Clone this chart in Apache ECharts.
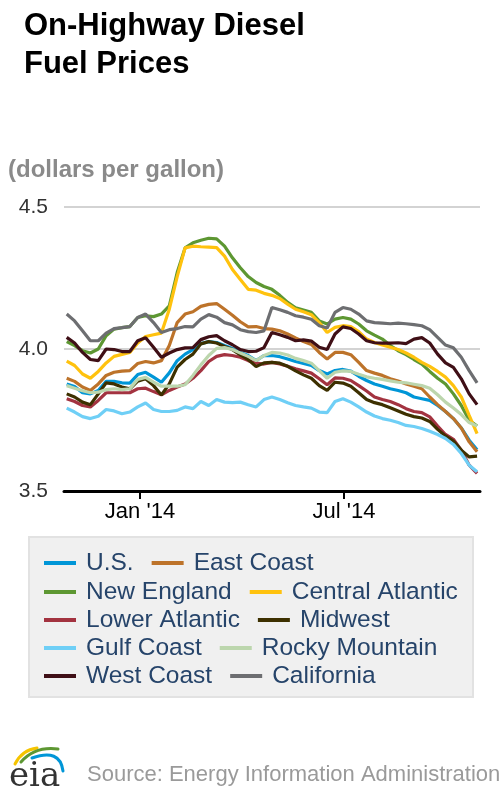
<!DOCTYPE html>
<html>
<head>
<meta charset="utf-8">
<script src="https://cdn.jsdelivr.net/npm/echarts@6/dist/echarts.min.js"></script>
<style>
html,body{margin:0;padding:0;background:#fff;}
#chart{width:500px;height:800px;}
</style>
</head>
<body>
<div id="chart"></div>
<script>
const weeks = ['2013-10-28','2013-11-04','2013-11-11','2013-11-18','2013-11-25','2013-12-02','2013-12-09','2013-12-16','2013-12-23','2013-12-30',
'2014-01-06','2014-01-13','2014-01-20','2014-01-27','2014-02-03','2014-02-10','2014-02-17','2014-02-24','2014-03-03','2014-03-10',
'2014-03-17','2014-03-24','2014-03-31','2014-04-07','2014-04-14','2014-04-21','2014-04-28','2014-05-05','2014-05-12','2014-05-19',
'2014-05-26','2014-06-02','2014-06-09','2014-06-16','2014-06-23','2014-06-30','2014-07-07','2014-07-14','2014-07-21','2014-07-28',
'2014-08-04','2014-08-11','2014-08-18','2014-08-25','2014-09-01','2014-09-08','2014-09-15','2014-09-22','2014-09-29','2014-10-06',
'2014-10-13','2014-10-20','2014-10-27'];

const us = [3.877,3.868,3.846,3.842,3.854,3.886,3.886,3.881,3.880,3.910,3.918,3.901,3.883,3.916,3.959,3.982,3.998,4.019,4.026,4.023,4.012,4.002,3.988,3.977,
3.959,3.977,3.977,3.973,3.965,3.956,3.949,3.942,3.924,3.912,3.924,3.928,3.922,3.904,3.889,3.877,3.869,3.860,3.854,3.846,3.831,3.825,3.819,3.801,3.780,3.755,3.722,3.679,3.645];
const eastCoast = [3.897,3.886,3.866,3.854,3.877,3.907,3.918,3.922,3.924,3.949,3.956,3.951,3.959,4.012,4.093,4.123,4.131,4.150,4.157,4.160,4.140,4.119,4.096,4.078,
4.079,4.072,4.070,4.064,4.053,4.039,4.026,4.016,3.988,3.965,3.988,3.988,3.980,3.953,3.924,3.915,3.907,3.895,3.887,3.877,3.869,3.860,3.831,3.804,3.780,3.755,3.722,3.673,3.638];
const newEngland = [4.026,4.012,3.994,3.986,4.000,4.047,4.070,4.075,4.079,4.111,4.117,4.114,4.123,4.152,4.269,4.356,4.374,4.383,4.390,4.388,4.362,4.321,4.286,4.255,
4.234,4.220,4.210,4.189,4.164,4.145,4.137,4.129,4.099,4.088,4.105,4.111,4.105,4.088,4.064,4.049,4.035,4.012,3.994,3.980,3.963,3.947,3.921,3.897,3.877,3.842,3.801,3.749,3.729];
const centralAtlantic = [3.957,3.942,3.912,3.897,3.921,3.951,3.974,3.981,3.988,4.021,4.044,4.050,4.056,4.140,4.255,4.356,4.362,4.360,4.359,4.357,4.327,4.280,4.245,4.210,
4.207,4.196,4.189,4.178,4.158,4.140,4.131,4.121,4.093,4.058,4.076,4.082,4.079,4.061,4.035,4.023,4.014,4.006,3.998,3.986,3.971,3.953,3.939,3.921,3.901,3.871,3.831,3.766,3.702];
const lowerAtlantic = [3.825,3.815,3.801,3.796,3.819,3.846,3.846,3.846,3.846,3.860,3.862,3.850,3.839,3.854,3.866,3.877,3.897,3.924,3.956,3.974,3.980,3.977,3.971,3.959,
3.950,3.947,3.953,3.947,3.939,3.930,3.923,3.915,3.895,3.874,3.898,3.897,3.889,3.871,3.852,3.831,3.822,3.815,3.804,3.790,3.780,3.776,3.761,3.729,3.699,3.682,3.644,3.591,3.562];
const midwest = [3.842,3.831,3.813,3.804,3.842,3.881,3.877,3.866,3.860,3.887,3.895,3.871,3.838,3.877,3.936,3.963,3.982,4.018,4.026,4.021,4.009,3.998,3.979,3.963,
3.938,3.951,3.953,3.950,3.939,3.923,3.909,3.897,3.871,3.854,3.883,3.880,3.869,3.846,3.822,3.811,3.804,3.793,3.782,3.770,3.762,3.757,3.745,3.717,3.694,3.676,3.644,3.620,3.623];
const gulfCoast = [3.792,3.778,3.762,3.755,3.763,3.787,3.782,3.772,3.778,3.796,3.810,3.787,3.780,3.780,3.784,3.796,3.790,3.815,3.801,3.822,3.813,3.811,3.813,3.804,
3.796,3.822,3.831,3.822,3.811,3.801,3.796,3.792,3.778,3.776,3.815,3.825,3.813,3.796,3.778,3.764,3.755,3.749,3.741,3.731,3.727,3.720,3.710,3.699,3.685,3.664,3.632,3.591,3.568];
const rockyMountain = [3.871,3.862,3.853,3.846,3.848,3.857,3.860,3.857,3.860,3.893,3.900,3.883,3.869,3.869,3.869,3.874,3.907,3.944,3.977,4.002,4.005,3.998,3.986,3.974,
3.959,3.977,3.988,3.986,3.979,3.967,3.959,3.950,3.924,3.897,3.918,3.923,3.921,3.911,3.902,3.897,3.893,3.888,3.883,3.881,3.876,3.871,3.862,3.839,3.813,3.792,3.769,3.741,3.729];
const westCoast = [4.041,4.021,3.988,3.963,3.959,4.000,3.998,3.991,3.991,4.029,4.040,4.006,3.971,3.986,3.998,4.004,4.005,4.033,4.043,4.047,4.029,4.015,3.998,3.991,
3.992,4.005,4.058,4.050,4.041,4.029,4.032,4.028,4.006,3.998,4.053,4.078,4.072,4.053,4.029,4.022,4.021,4.021,4.022,4.019,4.035,4.040,4.021,3.982,3.951,3.935,3.895,3.842,3.804];
const california = [4.123,4.099,4.064,4.029,4.029,4.056,4.072,4.075,4.079,4.111,4.123,4.093,4.058,4.068,4.072,4.079,4.078,4.105,4.121,4.112,4.093,4.085,4.068,4.061,
4.058,4.064,4.146,4.138,4.129,4.117,4.112,4.105,4.082,4.074,4.129,4.146,4.140,4.123,4.099,4.093,4.091,4.089,4.091,4.089,4.086,4.082,4.068,4.041,4.014,4.004,3.971,3.924,3.881];

const seriesNames = ['U.S.','East Coast','New England','Central Atlantic','Lower Atlantic','Midwest','Gulf Coast','Rocky Mountain','West Coast','California'];
const seriesValues = [us,eastCoast,newEngland,centralAtlantic,lowerAtlantic,midwest,gulfCoast,rockyMountain,westCoast,california];
const seriesColors = ['#0096d7','#bd732a','#5d9732','#ffc20e','#a33340','#3d3000','#6fcff6','#bcd6ad','#3f0f16','#6d6e71'];
const xTickDates = ['2014-01-01','2014-07-01'];
const monthNames = ['Jan','Feb','Mar','Apr','May','Jun','Jul','Aug','Sep','Oct','Nov','Dec'];

const FONT = '"Liberation Sans", Arial, Helvetica, sans-serif';
const toTs = s => { const p = s.split('-').map(Number); return Date.UTC(p[0], p[1]-1, p[2]); };
const DAY = 86400000;
const tickTs = xTickDates.map(toTs);

const chart = echarts.init(document.getElementById('chart'), null, {renderer:'canvas'});

const series = seriesNames.map((n, k) => ({
  name: n,
  type: 'line',
  data: weeks.map((d, i) => [toTs(d), seriesValues[k][i]]),
  showSymbol: false,
  symbol: 'none',
  lineStyle: {color: seriesColors[k], width: 3.2},
  itemStyle: {color: seriesColors[k]},
  emphasis: {disabled: true},
  animation: false
}));

const rowTops = [549, 578, 606, 634, 662];
const legends = [];
for (let r = 0; r < 5; r++) {
  legends.push({
    data: [seriesNames[2*r], seriesNames[2*r+1]],
    left: 44, top: rowTops[r],
    padding: 0,
    orient: 'horizontal',
    icon: 'rect',
    itemWidth: 32, itemHeight: 4, itemGap: 18,
    selectedMode: false,
    textStyle: {fontSize: 24.5, color: '#26446a', fontFamily: FONT, padding: [0,0,0,5], lineHeight: 28}
  });
}

const option = {
  animation: false,
  backgroundColor: '#ffffff',
  title: {
    text: 'On-Highway Diesel\nFuel Prices',
    left: 19, top: 2,
    textStyle: {fontSize: 31, fontWeight: 'bold', color: '#000', fontFamily: FONT, lineHeight: 38}
  },
  legend: legends,
  grid: {left: 64, right: 20, top: 207, height: 284, containLabel: false},
  xAxis: {
    type: 'value',
    min: toTs(weeks[0]) - 2.4*DAY,
    max: toTs(weeks[weeks.length-1]) + 2.6*DAY,
    axisLine: {show: true, onZero: false, lineStyle: {color: '#000', width: 3}},
    axisTick: {show: true, customValues: tickTs, length: 8, lineStyle: {color: '#000', width: 2}},
    axisLabel: {
      show: true, customValues: tickTs, margin: 10,
      fontSize: 22, color: '#000', fontFamily: FONT,
      formatter: v => { const d = new Date(v); return monthNames[d.getUTCMonth()] + " '" + String(d.getUTCFullYear()).slice(2); }
    },
    splitLine: {show: false}
  },
  yAxis: {
    type: 'value',
    min: 3.5, max: 4.5, interval: 0.5,
    axisLine: {show: false},
    axisTick: {show: false},
    axisLabel: {margin: 16, fontSize: 21, color: '#333', fontFamily: FONT, formatter: v => v.toFixed(1)},
    splitLine: {show: true, lineStyle: {color: '#c4c4c4', width: 1.5}}
  },
  graphic: [
    {type: 'text', left: 8, top: 158, style: {text: '(dollars per gallon)', font: 'bold 24px ' + FONT, fill: '#8a8a8a'}},
    {type: 'rect', shape: {x: 29, y: 537, width: 444, height: 160}, style: {fill: '#f0f0f0', stroke: '#e2e2e2', lineWidth: 2}, z: -1},
    {type: 'text', x: 87, y: 775, style: {text: 'Source: Energy Information Administration', font: '22px ' + FONT, fill: '#9a9a9a', textVerticalAlign: 'middle'}},
    {type: 'text', x: 9, y: 777, style: {text: 'eia', font: '34px "DejaVu Serif", "Liberation Serif", serif', fill: '#333333', textVerticalAlign: 'middle'}},
    {type: 'bezierCurve', shape: {x1: 15, y1: 764, cpx1: 22, cpy1: 750, x2: 37, y2: 748}, style: {stroke: '#f5c400', lineWidth: 3, fill: null, lineCap: 'round'}},
    {type: 'bezierCurve', shape: {x1: 21, y1: 762, cpx1: 35, cpy1: 746, x2: 58, y2: 749}, style: {stroke: '#5d9732', lineWidth: 3, fill: null, lineCap: 'round'}},
    {type: 'bezierCurve', shape: {x1: 32, y1: 758, cpx1: 60, cpy1: 748, x2: 63, y2: 771}, style: {stroke: '#0096d7', lineWidth: 3, fill: null, lineCap: 'round'}}
  ],
  series: series
};
chart.setOption(option);
</script>
</body>
</html>
